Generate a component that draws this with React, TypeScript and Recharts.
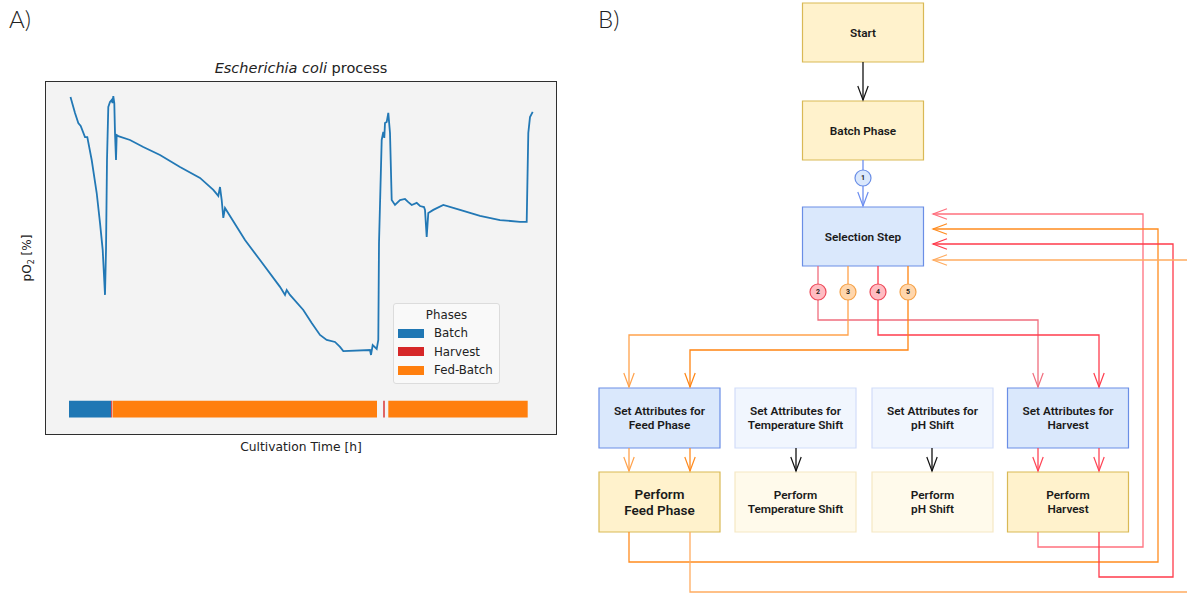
import React from 'react';
import {
  LineChart,
  ComposedChart,
  Line,
  XAxis,
  YAxis,
  ReferenceArea,
  ReferenceDot,
  Legend,
} from 'recharts';

// ---- Panel A: pO2 trace (hours, %) ----
const timeH = [
  0.05, 0.5, 0.83, 1.07, 1.5, 1.73, 2.17, 2.67, 3.0, 3.27, 3.5, 3.6, 3.7, 3.83, 4.0, 4.17, 4.25, 4.33, 4.43,
  4.5, 4.6, 4.67, 4.83, 6.0, 7.33, 9.0, 11.0, 13.0, 14.33, 14.83, 15.0, 15.17, 15.33, 15.5, 17.5, 19.0, 21.0,
  21.5, 21.67, 22.0, 23.33, 24.17, 25.0, 25.67, 26.5, 27.0, 27.33, 30.0, 30.1, 30.27, 30.67, 30.83, 30.9,
  31.17, 31.33, 31.43, 31.5, 31.67, 31.83, 32.0, 32.17, 32.5, 33.0, 33.5, 33.83, 34.17, 34.67, 35.0, 35.4,
  35.5, 35.67, 35.83, 36.33, 37.33, 39.0, 41.0, 43.0, 45.0, 45.67, 45.83, 46.0, 46.27,
];
const pO2 = [
  99.2, 93.1, 89.2, 88.1, 83.8, 83.8, 75.0, 62.3, 50.8, 40.4, 23.1, 40.4, 75.0, 95.4, 97.3, 98.1, 96.9, 99.6, 96.9,
  85.4, 75.0, 84.6, 84.2, 82.7, 80.0, 76.9, 72.3, 68.1, 63.5, 61.2, 64.6, 59.6, 52.7, 56.5, 44.2, 36.5, 26.2,
  23.1, 25.0, 23.1, 17.3, 12.3, 7.7, 5.8, 5.0, 3.1, 1.5, 1.9, 0.0, 3.8, 2.3, 5.8, 43.1,
  82.7, 85.8, 83.5, 89.2, 89.6, 93.1, 85.4, 59.6, 57.7, 59.6, 60.0, 58.8, 57.7, 58.5, 57.3, 56.9,
  55.8, 45.4, 54.6, 55.8, 57.7, 55.8, 53.5, 51.9, 51.2, 51.2, 85.4, 91.5, 93.5,
];

const phaseNames = ['Batch', 'Harvest', 'Fed-Batch', 'Harvest', 'Fed-Batch'];
const phaseStart = [-0.1, 4.12, 4.27, 31.33, 31.83];
const phaseEnd = [4.1, 4.22, 30.7, 31.47, 45.77];
const legendOrder = ['Batch', 'Harvest', 'Fed-Batch'];
const phaseColor: Record<string, string> = { Batch: '#1f77b4', Harvest: '#d62728', 'Fed-Batch': '#ff7f0e' };

const traceData = timeH.map((t, i) => ({ t, po2: pO2[i] }));

// ---- Panel B: flowchart (diagram units) ----
const nodeLabels = [
  ['Start'],
  ['Batch Phase'],
  ['Selection Step'],
  ['Set Attributes for', 'Feed Phase'],
  ['Set Attributes for', 'Temperature Shift'],
  ['Set Attributes for', 'pH Shift'],
  ['Set Attributes for', 'Harvest'],
  ['Perform', 'Feed Phase'],
  ['Perform', 'Temperature Shift'],
  ['Perform', 'pH Shift'],
  ['Perform', 'Harvest'],
];
const nodeCx = [863, 863, 863, 659.5, 795.5, 932.5, 1068, 659.5, 795.5, 932.5, 1068];
const nodeTop = [3, 101, 207, 388, 388, 388, 388, 472, 472, 472, 472];
const nodeTone = ['yellow', 'yellow', 'blue', 'blue', 'paleBlue', 'paleBlue', 'blue', 'yellow', 'paleYellow', 'paleYellow', 'yellow'];

const edgePaths: number[][][] = [
  [[863, 62], [863, 100]],
  [[863, 160], [863, 206]],
  [[818, 266], [818, 320], [1038, 320], [1038, 387]],
  [[848, 266], [848, 335], [629, 335], [629, 387]],
  [[878, 266], [878, 335], [1099, 335], [1099, 387]],
  [[908, 266], [908, 350], [690, 350], [690, 387]],
  [[629, 448], [629, 471]],
  [[690, 448], [690, 471]],
  [[796, 448], [796, 471]],
  [[932, 448], [932, 471]],
  [[1038, 448], [1038, 471]],
  [[1099, 448], [1099, 471]],
  [[1038, 532], [1038, 547], [1143, 547], [1143, 214], [933, 214]],
  [[629, 532], [629, 562], [1158, 562], [1158, 229], [933, 229]],
  [[1099, 532], [1099, 577], [1173, 577], [1173, 244], [933, 244]],
  [[690, 532], [690, 592], [1200, 592], [1200, 260], [933, 260]],
];
const edgeColors = [
  '#111111', '#6c8ef0', '#f06e7e', '#ffa24c', '#ff3d4e', '#ff8412',
  '#ffa24c', '#ff8a1e', '#111111', '#111111', '#ff4455', '#ff4455',
  '#ff707e', '#ff8c1f', '#ff3b4b', '#ffac60',
];

const badgeLabels = ['1', '2', '3', '4', '5'];
const badgeX = [863, 818, 848, 878, 908];
const badgeY = [178, 292, 292, 292, 292];
const badgeTone = ['blue', 'red', 'orange', 'red', 'orange'];

const toneStyle: Record<string, { fill: string; stroke: string }> = {
  yellow: { fill: '#fff2cc', stroke: '#d9b955' },
  paleYellow: { fill: '#fffaeb', stroke: '#f6e8c4' },
  blue: { fill: '#dae8fc', stroke: '#6a8ee6' },
  paleBlue: { fill: '#f1f6fe', stroke: '#d2ddf9' },
  red: { fill: '#ffbcc2', stroke: '#ee4a5a' },
  orange: { fill: '#ffd6ac', stroke: '#f5a34a' },
};

const NODE_W = 121;
const NODE_H = 60;
const flowFont = 'Roboto, "Noto Sans", sans-serif';
const mplFont = '"DejaVu Sans", sans-serif';

function arrowDot(pts: number[][], color: string) {
  return (props: any) => {
    const { cx, cy, index } = props;
    if (index !== pts.length - 1) return <g key={`n${index}`} />;
    const [x0, y0] = pts[pts.length - 2];
    const [x1, y1] = pts[pts.length - 1];
    const len = Math.hypot(x1 - x0, y1 - y0);
    const ux = (x1 - x0) / len;
    const uy = (y1 - y0) / len;
    const L = 14;
    const W = 5.2;
    const bx = cx - ux * L;
    const by = cy - uy * L;
    return (
      <path
        key={`a${index}`}
        d={`M${bx - uy * W},${by + ux * W}L${cx},${cy}L${bx + uy * W},${by - ux * W}`}
        fill="none"
        stroke={color}
        strokeWidth={1.2}
      />
    );
  };
}

function boxLabel(lines: string[], big: boolean) {
  return (props: any) => {
    const vb = props.viewBox;
    const cx = vb.x + vb.width / 2;
    const cy = vb.y + vb.height / 2;
    const size = big ? 13.5 : 11.8;
    const gap = big ? 16 : 14;
    return (
      <text
        x={cx}
        y={cy}
        textAnchor="middle"
        fontFamily={flowFont}
        fontWeight={600}
        fontSize={size}
        fill="#1a1a1a"
      >
        {lines.map((s, i) => (
          <tspan key={i} x={cx} y={cy + (i - (lines.length - 1) / 2) * gap} dy="0.36em">
            {s}
          </tspan>
        ))}
      </text>
    );
  };
}

function badgeLabel(text: string) {
  return (props: any) => {
    const vb = props.viewBox;
    const cx = vb.x + vb.width / 2;
    const cy = vb.y + vb.height / 2;
    return (
      <text x={cx} y={cy} dy="0.35em" textAnchor="middle" fontFamily={flowFont} fontWeight={700} fontSize={7} fill="#222">
        {text}
      </text>
    );
  };
}

function PhaseLegend() {
  return (
    <div
      style={{
        background: '#f9f9f9',
        border: '1px solid #dcdcdc',
        borderRadius: 3,
        padding: '2px 4px 3px 4px',
        fontFamily: mplFont,
        fontSize: 11.8,
        color: '#222',
        boxSizing: 'border-box',
        width: 107,
      }}
    >
      <div style={{ textAlign: 'center', lineHeight: '18px' }}>Phases</div>
      {legendOrder.map((name) => (
        <div key={name} style={{ display: 'flex', alignItems: 'center', height: 18.5 }}>
          <span style={{ display: 'inline-block', width: 26, height: 9, background: phaseColor[name], marginRight: 10 }} />
          <span>{name}</span>
        </div>
      ))}
    </div>
  );
}

export default function App() {
  return (
    <div style={{ position: 'absolute', left: 0, top: 0, width: 1187, height: 594, background: '#fff', overflow: 'hidden' }}>
      {/* Panel letters */}
      <div style={{ position: 'absolute', left: 9, top: 4, fontFamily: 'Lato, sans-serif', fontWeight: 300, fontSize: 24, color: '#222' }}>A)</div>
      <div style={{ position: 'absolute', left: 598, top: 4, fontFamily: 'Lato, sans-serif', fontWeight: 300, fontSize: 24, color: '#222' }}>B)</div>

      {/* Panel A */}
      <div
        style={{
          position: 'absolute',
          left: 46,
          top: 59,
          width: 510,
          textAlign: 'center',
          fontFamily: mplFont,
          fontSize: 14.5,
          lineHeight: '19px',
          color: '#222',
        }}
      >
        <i>Escherichia coli</i> process
      </div>
      <div
        style={{
          position: 'absolute',
          left: 28,
          top: 258,
          transform: 'translate(-50%, -50%) rotate(-90deg)',
          whiteSpace: 'nowrap',
          fontFamily: mplFont,
          fontSize: 12,
          color: '#222',
        }}
      >
        pO<sub style={{ fontSize: 8 }}>2</sub> [%]
      </div>
      <div
        style={{
          position: 'absolute',
          left: 46,
          top: 439,
          width: 510,
          textAlign: 'center',
          fontFamily: mplFont,
          fontSize: 12.3,
          lineHeight: '17px',
          color: '#222',
        }}
      >
        Cultivation Time [h]
      </div>
      <div
        style={{
          position: 'absolute',
          left: 45,
          top: 81,
          width: 510,
          height: 352,
          border: '1px solid #2e2e2e',
          background: '#f3f3f3',
        }}
      >
        <LineChart width={510} height={352} data={traceData} margin={{ top: 0, right: 0, bottom: 0, left: 0 }}>
          <XAxis dataKey="t" type="number" domain={[-2.4, 48.6]} hide allowDataOverflow />
          <YAxis type="number" domain={[-30.4, 105]} hide allowDataOverflow />
          {phaseNames.map((name, i) => (
            <ReferenceArea
              key={`ph${i}`}
              x1={phaseStart[i]}
              x2={phaseEnd[i]}
              y1={-17.6}
              y2={-24.1}
              fill={phaseColor[name]}
              fillOpacity={1}
              stroke="none"
            />
          ))}
          <Line
            type="linear"
            dataKey="po2"
            stroke="#2278b5"
            strokeWidth={1.8}
            dot={false}
            activeDot={false}
            isAnimationActive={false}
          />
          <Legend
            layout="vertical"
            align="center"
            verticalAlign="middle"
            wrapperStyle={{ left: 347, top: 221, width: 107 }}
            content={() => <PhaseLegend />}
          />
        </LineChart>
      </div>

      {/* Panel B */}
      <div style={{ position: 'absolute', left: 590, top: 0 }}>
        <ComposedChart width={597} height={594} margin={{ top: 0, right: 0, bottom: 0, left: 0 }}>
          <XAxis dataKey="x" type="number" domain={[590, 1187]} hide allowDataOverflow />
          <YAxis type="number" domain={[0, 594]} reversed hide allowDataOverflow />
          {edgePaths.map((pts, i) => (
            <Line
              key={`e${i}`}
              data={pts.map(([x, y]) => ({ x, y }))}
              dataKey="y"
              type="linear"
              stroke={edgeColors[i]}
              strokeWidth={1.3}
              dot={arrowDot(pts, edgeColors[i])}
              activeDot={false}
              isAnimationActive={false}
            />
          ))}
          {nodeLabels.map((lines, i) => (
            <ReferenceArea
              key={`b${i}`}
              x1={nodeCx[i] - NODE_W / 2}
              x2={nodeCx[i] + NODE_W / 2}
              y1={nodeTop[i]}
              y2={nodeTop[i] + (i < 3 ? NODE_H - 1 : NODE_H)}
              fill={toneStyle[nodeTone[i]].fill}
              fillOpacity={1}
              stroke={toneStyle[nodeTone[i]].stroke}
              strokeWidth={1.2}
              ifOverflow="visible"
              label={boxLabel(lines, i === 7)}
            />
          ))}
          {badgeLabels.map((b, i) => (
            <ReferenceDot
              key={`c${i}`}
              x={badgeX[i]}
              y={badgeY[i]}
              r={8}
              fill={toneStyle[badgeTone[i]].fill}
              stroke={toneStyle[badgeTone[i]].stroke}
              strokeWidth={1.2}
              label={badgeLabel(b)}
            />
          ))}
        </ComposedChart>
      </div>
    </div>
  );
}
